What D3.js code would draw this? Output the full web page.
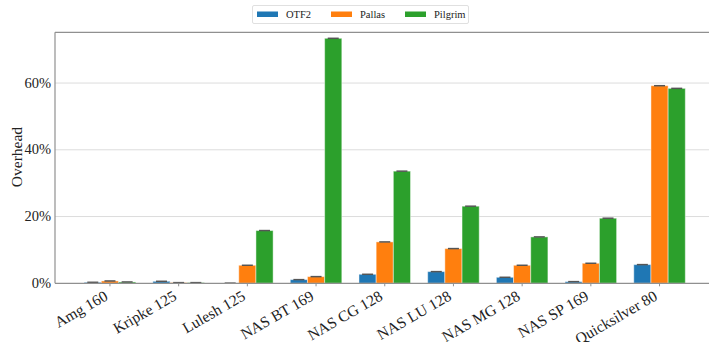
<!DOCTYPE html>
<html>
<head>
<meta charset="utf-8">
<script src="https://cdn.jsdelivr.net/npm/d3@7"></script>
<style>
  html, body { margin: 0; padding: 0; background: #fff; }
  svg { display: block; }
  svg text { font-family: "Liberation Serif", "DejaVu Serif", serif; }
</style>
</head>
<body>
<svg id="chart" width="709" height="342"></svg>
<script>
const categories = ["Amg 160", "Kripke 125", "Lulesh 125", "NAS BT 169", "NAS CG 128",
                    "NAS LU 128", "NAS MG 128", "NAS SP 169", "Quicksilver 80"];
const seriesNames = ["OTF2", "Pallas", "Pilgrim"];
const otf2    = [0.3, 0.6, 0.05, 1.1, 2.7, 3.5, 1.8, 0.5, 5.6];
const pallas  = [0.7, 0.2, 5.4, 2.0, 12.4, 10.4, 5.4, 6.0, 59.2];
const pilgrim = [0.4, 0.2, 15.8, 73.4, 33.6, 23.1, 13.9, 19.5, 58.4];
const yTicks = [0, 20, 40, 60];
const colors = ["#1f77b4", "#ff7f0e", "#2ca02c"];

const series = [otf2, pallas, pilgrim];

const svg = d3.select("#chart");
const pLeft = 55, pRight = 714.5, pTop = 32.3, pBottom = 283.3;

const x = d3.scaleLinear().domain([-0.8, 8.8]).range([pLeft, pRight]);
const y = d3.scaleLinear().domain([0, 75.2]).range([pBottom, pTop]);
const barW = 0.25;

// gridlines
svg.append("g").selectAll("line").data(yTicks.filter(t => t > 0)).join("line")
  .attr("x1", pLeft).attr("x2", 709)
  .attr("y1", d => y(d)).attr("y2", d => y(d))
  .attr("stroke", "#dcdcdc").attr("stroke-width", 1);

// bars
series.forEach((vals, si) => {
  const g = svg.append("g");
  g.selectAll("rect").data(vals).join("rect")
    .attr("x", (d, i) => x(i + (si - 1) * barW - barW / 2))
    .attr("width", x(barW) - x(0))
    .attr("y", d => y(d))
    .attr("height", d => y(0) - y(d))
    .attr("fill", colors[si])
    .attr("stroke", "#ffffff").attr("stroke-opacity", 0.45).attr("stroke-width", 1);
  // error caps
  g.selectAll("line").data(vals).join("line")
    .attr("x1", (d, i) => x(i + (si - 1) * barW) - 5.5)
    .attr("x2", (d, i) => x(i + (si - 1) * barW) + 5.5)
    .attr("y1", d => y(d)).attr("y2", d => y(d))
    .attr("stroke", "#555").attr("stroke-width", 1.5);
});

// spines
svg.append("line").attr("x1", pLeft).attr("x2", pLeft).attr("y1", pTop).attr("y2", pBottom)
  .attr("stroke", "#909090").attr("stroke-width", 1.2);
svg.append("line").attr("x1", pLeft).attr("x2", 709).attr("y1", pTop).attr("y2", pTop)
  .attr("stroke", "#909090").attr("stroke-width", 1.2);
svg.append("line").attr("x1", pLeft).attr("x2", 709).attr("y1", pBottom).attr("y2", pBottom)
  .attr("stroke", "#909090").attr("stroke-width", 1.2);

// y tick labels
svg.append("g").selectAll("text").data(yTicks).join("text")
  .attr("x", 51).attr("y", d => y(d)).attr("dy", "0.32em")
  .attr("text-anchor", "end").attr("font-size", 14.5).attr("fill", "#222")
  .text(d => d + "%");

// y label
svg.append("text")
  .attr("transform", "translate(22,157) rotate(-90)")
  .attr("text-anchor", "middle").attr("font-size", 15.5).attr("fill", "#222")
  .text("Overhead");

// x ticks
svg.append("g").selectAll("line").data(categories).join("line")
  .attr("x1", (d, i) => x(i)).attr("x2", (d, i) => x(i))
  .attr("y1", pBottom).attr("y2", pBottom + 3)
  .attr("stroke", "#909090").attr("stroke-width", 1);

svg.append("g").selectAll("text").data(categories).join("text")
  .attr("transform", (d, i) => `translate(${x(i) - 1},299) rotate(-30)`)
  .attr("text-anchor", "end").attr("font-size", 15.5).attr("fill", "#222")
  .text(d => d);

// legend
const lg = svg.append("g");
lg.append("rect").attr("x", 252.5).attr("y", 5.5).attr("width", 216).attr("height", 18)
  .attr("fill", "#fff").attr("stroke", "#e0e0e0").attr("rx", 1.5);
const lx = [257, 331, 405];
seriesNames.forEach((n, i) => {
  lg.append("rect").attr("x", lx[i]).attr("y", 11.5).attr("width", 21).attr("height", 5.5)
    .attr("fill", colors[i]);
  lg.append("text").attr("x", lx[i] + 29).attr("y", 18).attr("font-size", 10.5)
    .attr("fill", "#222").text(n);
});
</script>
</body>
</html>
